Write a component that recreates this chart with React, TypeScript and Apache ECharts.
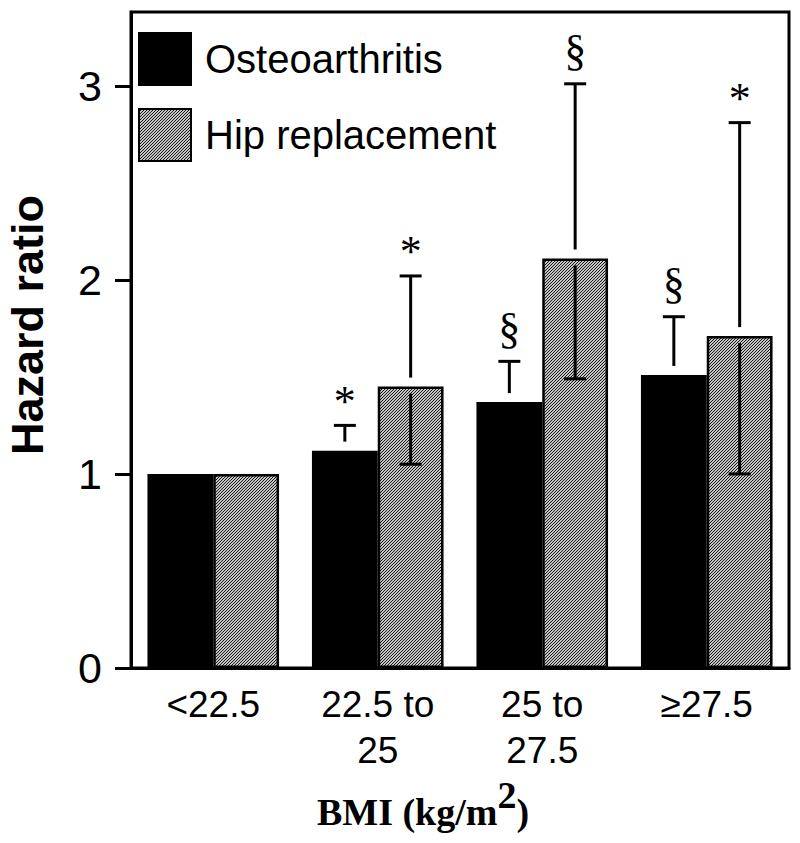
import React, { useEffect, useRef } from 'react';
import * as echarts from 'echarts';

const categories = ['<22.5', '22.5 to\n25', '25 to\n27.5', '≥27.5'];
const seriesNames = ['Osteoarthritis', 'Hip replacement'];
const oaHR = [1.0, 1.12, 1.37, 1.51];
const oaLower = [null, 1.0, 1.2, 1.26];
const oaUpper = [null, 1.25, 1.58, 1.81];
const oaMarks = ['', '*', '§', '§'];
const hipHR = [1.0, 1.45, 2.11, 1.71];
const hipLower = [null, 1.05, 1.49, 1.0];
const hipUpper = [null, 2.02, 3.01, 2.81];
const hipMarks = ['', '*', '§', '*'];
const yTicks = [0, 1, 2, 3];
const yMax = 3.38;

const SANS = '"Liberation Sans", Arial, sans-serif';
const SERIF = '"Liberation Serif", "Times New Roman", serif';

function makeHatch() {
  const c = document.createElement('canvas');
  c.width = 3;
  c.height = 3;
  const ctx = c.getContext('2d')!;
  ctx.fillStyle = '#c4c4c4';
  ctx.fillRect(0, 0, 3, 3);
  ctx.fillStyle = '#1a1a1a';
  ctx.fillRect(2, 0, 1, 1);
  ctx.fillRect(1, 1, 1, 1);
  ctx.fillRect(0, 2, 1, 1);
  return c;
}

function errData(hr: number[], lo: (number | null)[], hi: (number | null)[]) {
  const out: number[][] = [];
  hr.forEach((v, i) => {
    if (lo[i] != null && hi[i] != null) out.push([i, lo[i] as number, hi[i] as number, v]);
  });
  return out;
}

function makeRender(side: number, marks: string[]) {
  return (params: any, api: any) => {
    const ci = api.value(0);
    const lo = api.value(1);
    const hi = api.value(2);
    const v = api.value(3);
    const band = api.size([1, 0])[0];
    const cx = api.coord([ci, v])[0] + side * band * 0.2;
    const yHi = api.coord([ci, hi])[1];
    const yLo = api.coord([ci, lo])[1];
    const yV = api.coord([ci, v])[1];
    const capW = 22;
    const st = { stroke: '#000', lineWidth: 3 };
    const children: any[] = [
      { type: 'line', shape: { x1: cx, y1: yHi, x2: cx, y2: yV - 9 }, style: st },
      { type: 'line', shape: { x1: cx - capW / 2, y1: yHi, x2: cx + capW / 2, y2: yHi }, style: st },
      { type: 'line', shape: { x1: cx, y1: yV + 7, x2: cx, y2: yLo }, style: st },
      { type: 'line', shape: { x1: cx - capW / 2, y1: yLo, x2: cx + capW / 2, y2: yLo }, style: st },
    ];
    const mk = marks[ci];
    if (mk) {
      children.push({
        type: 'text',
        x: cx,
        y: yHi - 33 + (mk === '*' ? 9 : 0),
        style: {
          text: mk,
          fontSize: 44,
          fontFamily: SERIF,
          fill: '#000',
          align: 'center',
          verticalAlign: 'middle',
        },
      });
    }
    return { type: 'group', children };
  };
}

export default function App() {
  const ref = useRef<HTMLDivElement>(null);
  useEffect(() => {
    document.body.style.margin = '0';
    const chart = echarts.init(ref.current!, null, { renderer: 'svg' });
    const hatch = { image: makeHatch(), repeat: 'repeat' };
    chart.setOption({
      animation: false,
      backgroundColor: '#fff',
      grid: {
        left: 131,
        right: 11,
        top: 12,
        bottom: 175,
        show: true,
        borderColor: '#000',
        borderWidth: 3,
        containLabel: false,
      },
      legend: {
        data: seriesNames,
        orient: 'vertical',
        left: 133,
        top: 27,
        itemWidth: 52,
        itemHeight: 52,
        itemGap: 22,
        icon: 'rect',
        textStyle: { fontSize: 40, color: '#000', fontFamily: SANS, padding: [0, 0, 0, 9] },
      },
      xAxis: {
        type: 'category',
        data: categories,
        boundaryGap: true,
        axisLine: { lineStyle: { color: '#000', width: 3 } },
        axisTick: { alignWithLabel: true, length: 15, lineStyle: { color: '#000', width: 3 } },
        axisLabel: {
          interval: 0,
          fontSize: 37,
          lineHeight: 46,
          margin: 13,
          color: '#000',
          fontFamily: SANS,
        },
        splitLine: { show: false },
      },
      yAxis: {
        type: 'value',
        min: 0,
        max: yMax,
        interval: 1,
        axisLine: { show: true, lineStyle: { color: '#000', width: 3 } },
        axisTick: { show: true, length: 16, customValues: yTicks, lineStyle: { color: '#000', width: 3 } },
        axisLabel: { fontSize: 43, margin: 29, color: '#000', fontFamily: SANS, customValues: yTicks },
        splitLine: { show: false },
      },
      series: [
        {
          type: 'bar',
          name: seriesNames[0],
          data: oaHR,
          barWidth: '40%',
          barGap: '0%',
          itemStyle: { color: '#000', borderColor: '#000', borderWidth: 2 },
        },
        {
          type: 'bar',
          name: seriesNames[1],
          data: hipHR,
          barWidth: '40%',
          barGap: '0%',
          itemStyle: { color: hatch, borderColor: '#000', borderWidth: 2.5 },
        },
        {
          type: 'custom',
          name: 'oaErr',
          data: errData(oaHR, oaLower, oaUpper),
          encode: { x: 0, y: [1, 2] },
          renderItem: makeRender(-1, oaMarks),
          z: 5,
        },
        {
          type: 'custom',
          name: 'hipErr',
          data: errData(hipHR, hipLower, hipUpper),
          encode: { x: 0, y: [1, 2] },
          renderItem: makeRender(1, hipMarks),
          z: 5,
        },
      ],
      graphic: [
        {
          type: 'text',
          x: 27,
          y: 325,
          rotation: Math.PI / 2,
          style: {
            text: 'Hazard ratio',
            fontSize: 45,
            fontWeight: 'bold',
            fontFamily: SANS,
            fill: '#000',
            align: 'center',
            verticalAlign: 'middle',
          },
        },
        {
          type: 'text',
          x: 423,
          y: 812,
          style: {
            text: '{a|BMI (kg/m}{s|2}{a|)}',
            align: 'center',
            verticalAlign: 'middle',
            rich: {
              a: { fontSize: 38, fontWeight: 'bold', fontFamily: SERIF, fill: '#000', lineHeight: 72, verticalAlign: 'middle' },
              s: { fontSize: 38, fontWeight: 'bold', fontFamily: SERIF, fill: '#000', lineHeight: 38, verticalAlign: 'top' },
            },
          },
        },
      ],
    });
    return () => chart.dispose();
  }, []);
  return <div ref={ref} style={{ width: 800, height: 843 }} />;
}
